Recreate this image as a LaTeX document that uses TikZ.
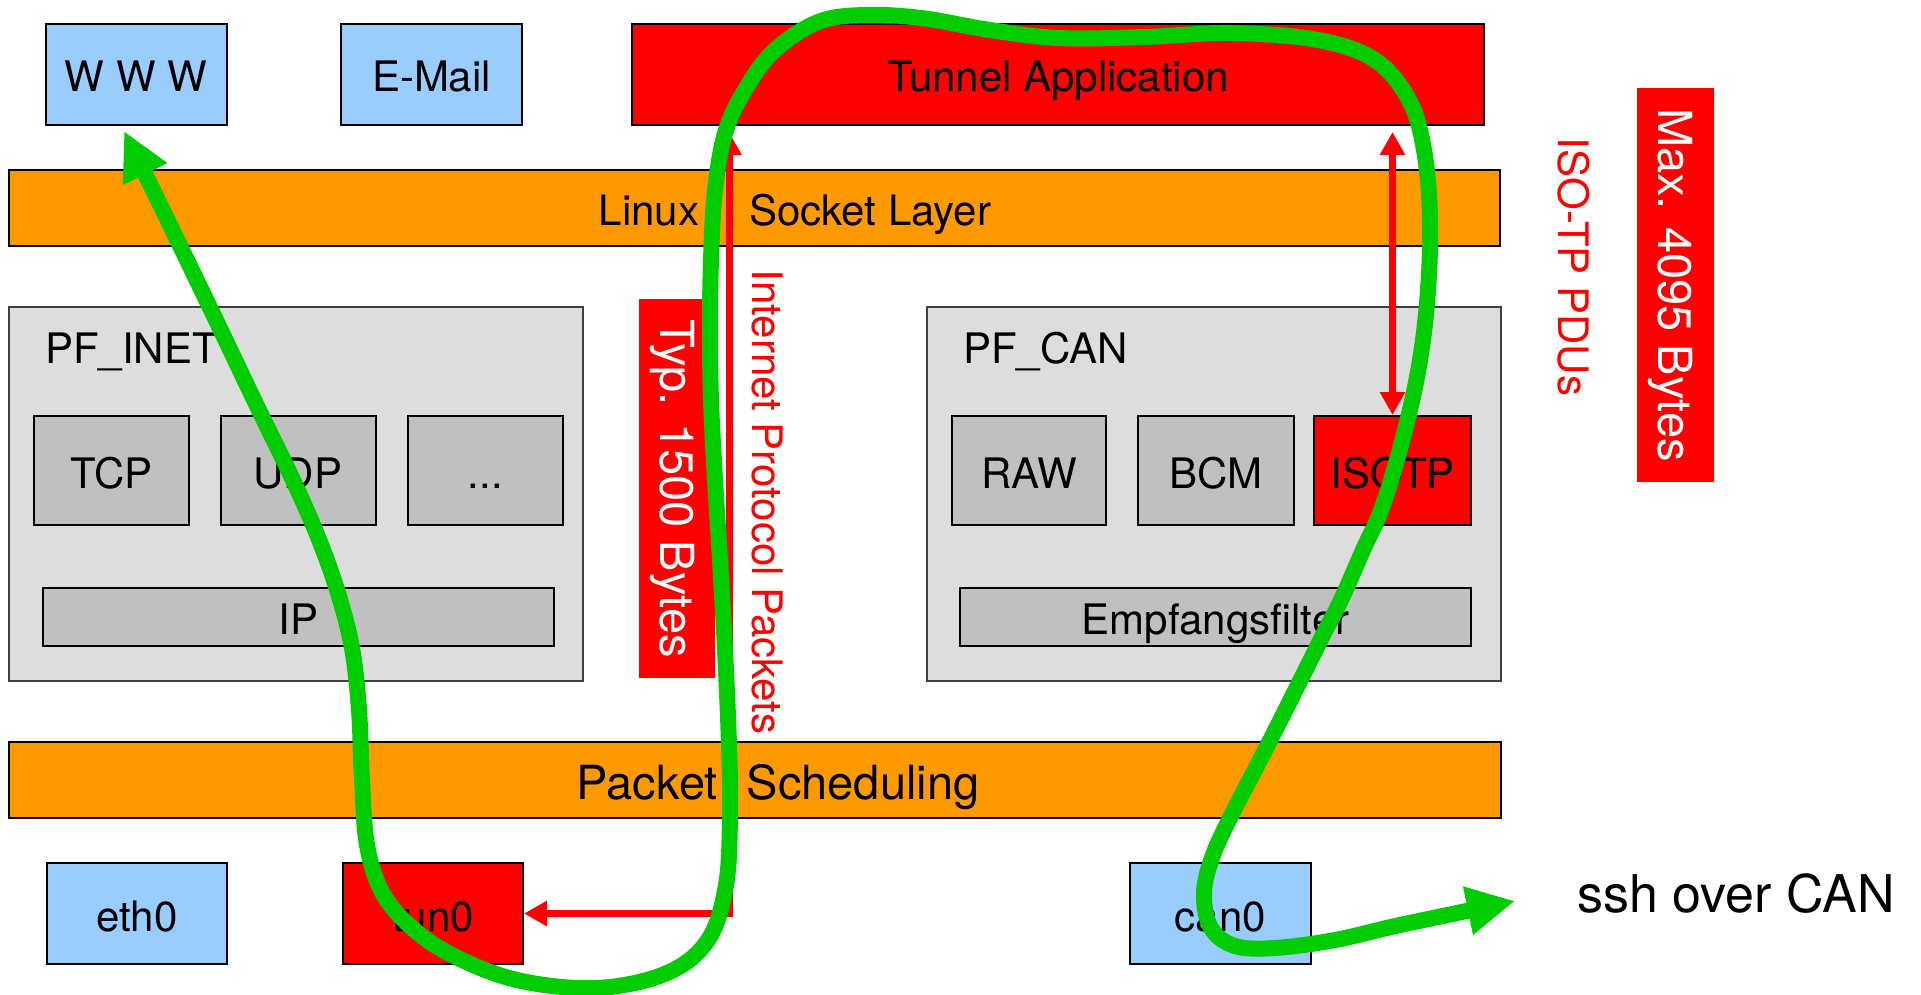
\documentclass[tikz,border=0pt]{standalone}
\usepackage{fontspec}
\setmainfont{TeX Gyre Heros}
\usetikzlibrary{arrows.meta}

\definecolor{appblue}{HTML}{99CCFF}
\definecolor{layerorange}{HTML}{FF9900}
\definecolor{hotred}{HTML}{FF0000}
\definecolor{familygray}{HTML}{DDDDDD}
\definecolor{protogray}{HTML}{C0C0C0}
\definecolor{pathgreen}{HTML}{00CC00}

\tikzset{
  lbl/.style={font=\fontsize{42}{50}\selectfont, text height=35pt, text depth=0pt, inner sep=0pt},
  block/.style={lbl, draw=black, line width=2pt},
  app/.style={block, fill=appblue, minimum width=181pt, minimum height=101pt},
  redblock/.style={block, fill=hotred},
  layer/.style={block, fill=layerorange, minimum width=1491pt, minimum height=76pt},
  family/.style={draw=black!75, line width=2pt, fill=familygray, minimum width=574pt, minimum height=374pt, inner sep=0pt},
  proto/.style={block, fill=protogray, minimum width=155pt, minimum height=109pt},
  core/.style={block, fill=protogray, minimum width=511pt, minimum height=58pt},
  sizetag/.style={fill=hotred, text=white, rotate=-90, inner sep=0pt,
    font=\fontsize{47}{56}\selectfont, text height=34pt, text depth=0pt},
  sidenote/.style={lbl, text=hotred, rotate=-90, text height=30pt},
  redarrow/.style={draw=hotred, line width=7pt,
    {Triangle[length=23pt,width=24pt]}-{Triangle[length=23pt,width=24pt]}},
  flow/.style={draw=pathgreen, line width=16pt, line cap=round, line join=round,
    {Triangle[length=48pt,width=46pt]}-{Triangle[length=48pt,width=46pt]}}
}

\begin{document}
\begin{tikzpicture}[x=1pt,y=-1pt]
\useasboundingbox (0,0) rectangle (1921,995);

% applications
\node[app] (www) at (136,74.5) {W W W};
\node[app] (email) at (431.5,74.5) {E-Mail};
\node[redblock, minimum width=852pt, minimum height=101pt] (tunnel) at (1058,74.5) {Tunnel Application};

% socket layer
\node[layer] (socket) at (754.5,208) {};
\node[lbl] (socketlbl) at (795,208) {Linux\hspace{50pt}Socket Layer};

% protocol families
\node[family] (pfinet) at (296,494) {};
\node[lbl, anchor=base west] (pfinetlbl) at (45,363) {PF\_INET};
\node[proto] (tcp) at (111.5,470.5) {TCP};
\node[proto] (udp) at (298,470.5) {UDP};
\node[proto] (more) at (485.5,470.5) {...};
\node[core] (ip) at (298.5,617) {IP};

\node[family] (pfcan) at (1214,494) {};
\node[lbl, anchor=base west] (pfcanlbl) at (963,363) {PF\_CAN};
\node[proto, minimum width=154pt] (raw) at (1029,470.5) {RAW};
\node[proto, minimum width=156pt] (bcm) at (1216,470.5) {BCM};
\node[proto, fill=hotred, minimum width=157pt] (isotp) at (1392.5,470.5) {ISOTP};
\node[core] (filter) at (1215.5,617) {Empfangsfilter};

% scheduling layer
\node[layer, minimum width=1492pt] (sched) at (755,780) {};
\node[lbl, font=\fontsize{47}{56}\selectfont, text height=38pt] (schedlbl) at (778,780) {Packet\hspace{29pt}Scheduling};

% network devices
\node[app, minimum width=180pt] (eth) at (137,913.5) {eth0};
\node[redblock, minimum width=180pt, minimum height=101pt] (tun) at (433,913.5) {tun0};
\node[app] (can) at (1220.5,913.5) {can0};

% size tags and annotations
\node[sizetag, minimum width=379pt, minimum height=76pt] (typ) at (677,488.5) {Typ. 1500 Bytes};
\node[sizetag, minimum width=394pt, minimum height=77pt] (max) at (1675.5,285) {Max. 4095 Bytes};
\node[sidenote] (iplbl) at (767,502) {Internet Protocol Packets};
\node[sidenote] (pdulbl) at (1573,267) {ISO-TP PDUs};
\node[lbl, font=\fontsize{52}{62}\selectfont, text height=37pt] (ssh) at (1736,894) {ssh over CAN};

% packet and PDU paths
\coordinate (ipup) at ([yshift=-6pt] tunnel.south -| 729,0);
\draw[redarrow] (ipup) |- (tun.east);
\draw[redarrow] ([yshift=-6pt] tunnel.south -| isotp.north) -- (isotp.north);

% end-to-end route of the ssh session
\coordinate (wwwtip) at (124,131);
\coordinate (sshtip) at (1515,901);
\draw[flow] plot[smooth, tension=0.6] coordinates {
  (wwwtip) (170,225) (214,316) (257,406) (292,478) (318,537) (338,593)
  (352,648) (359,710) (362,780) (367,845) (382,892) (410,926) (452,955)
  (517,980) (597,988) (667,973) (708,940) (726,885) (730,815) (729,745)
  (725,650) (720,560) (715,480) (711,400) (710,330) (711,260) (715,190)
  (726,130) (748,85) (775,50) (818,22) (864,15) (921,18) (990,30)
  (1059,38) (1145,37) (1231,33) (1318,40) (1375,60) (1409,100) (1424,150)
  (1430,217) (1428,290) (1420,360) (1405,430) (1383,505) (1363,550)
  (1341,600) (1324,633) (1307,667) (1282,717) (1260,760) (1233,812)
  (1213,855) (1204,893) (1211,928) (1235,946) (1275,948) (1335,940)
  (1400,925) (sshtip)};
\end{tikzpicture}
\end{document}
